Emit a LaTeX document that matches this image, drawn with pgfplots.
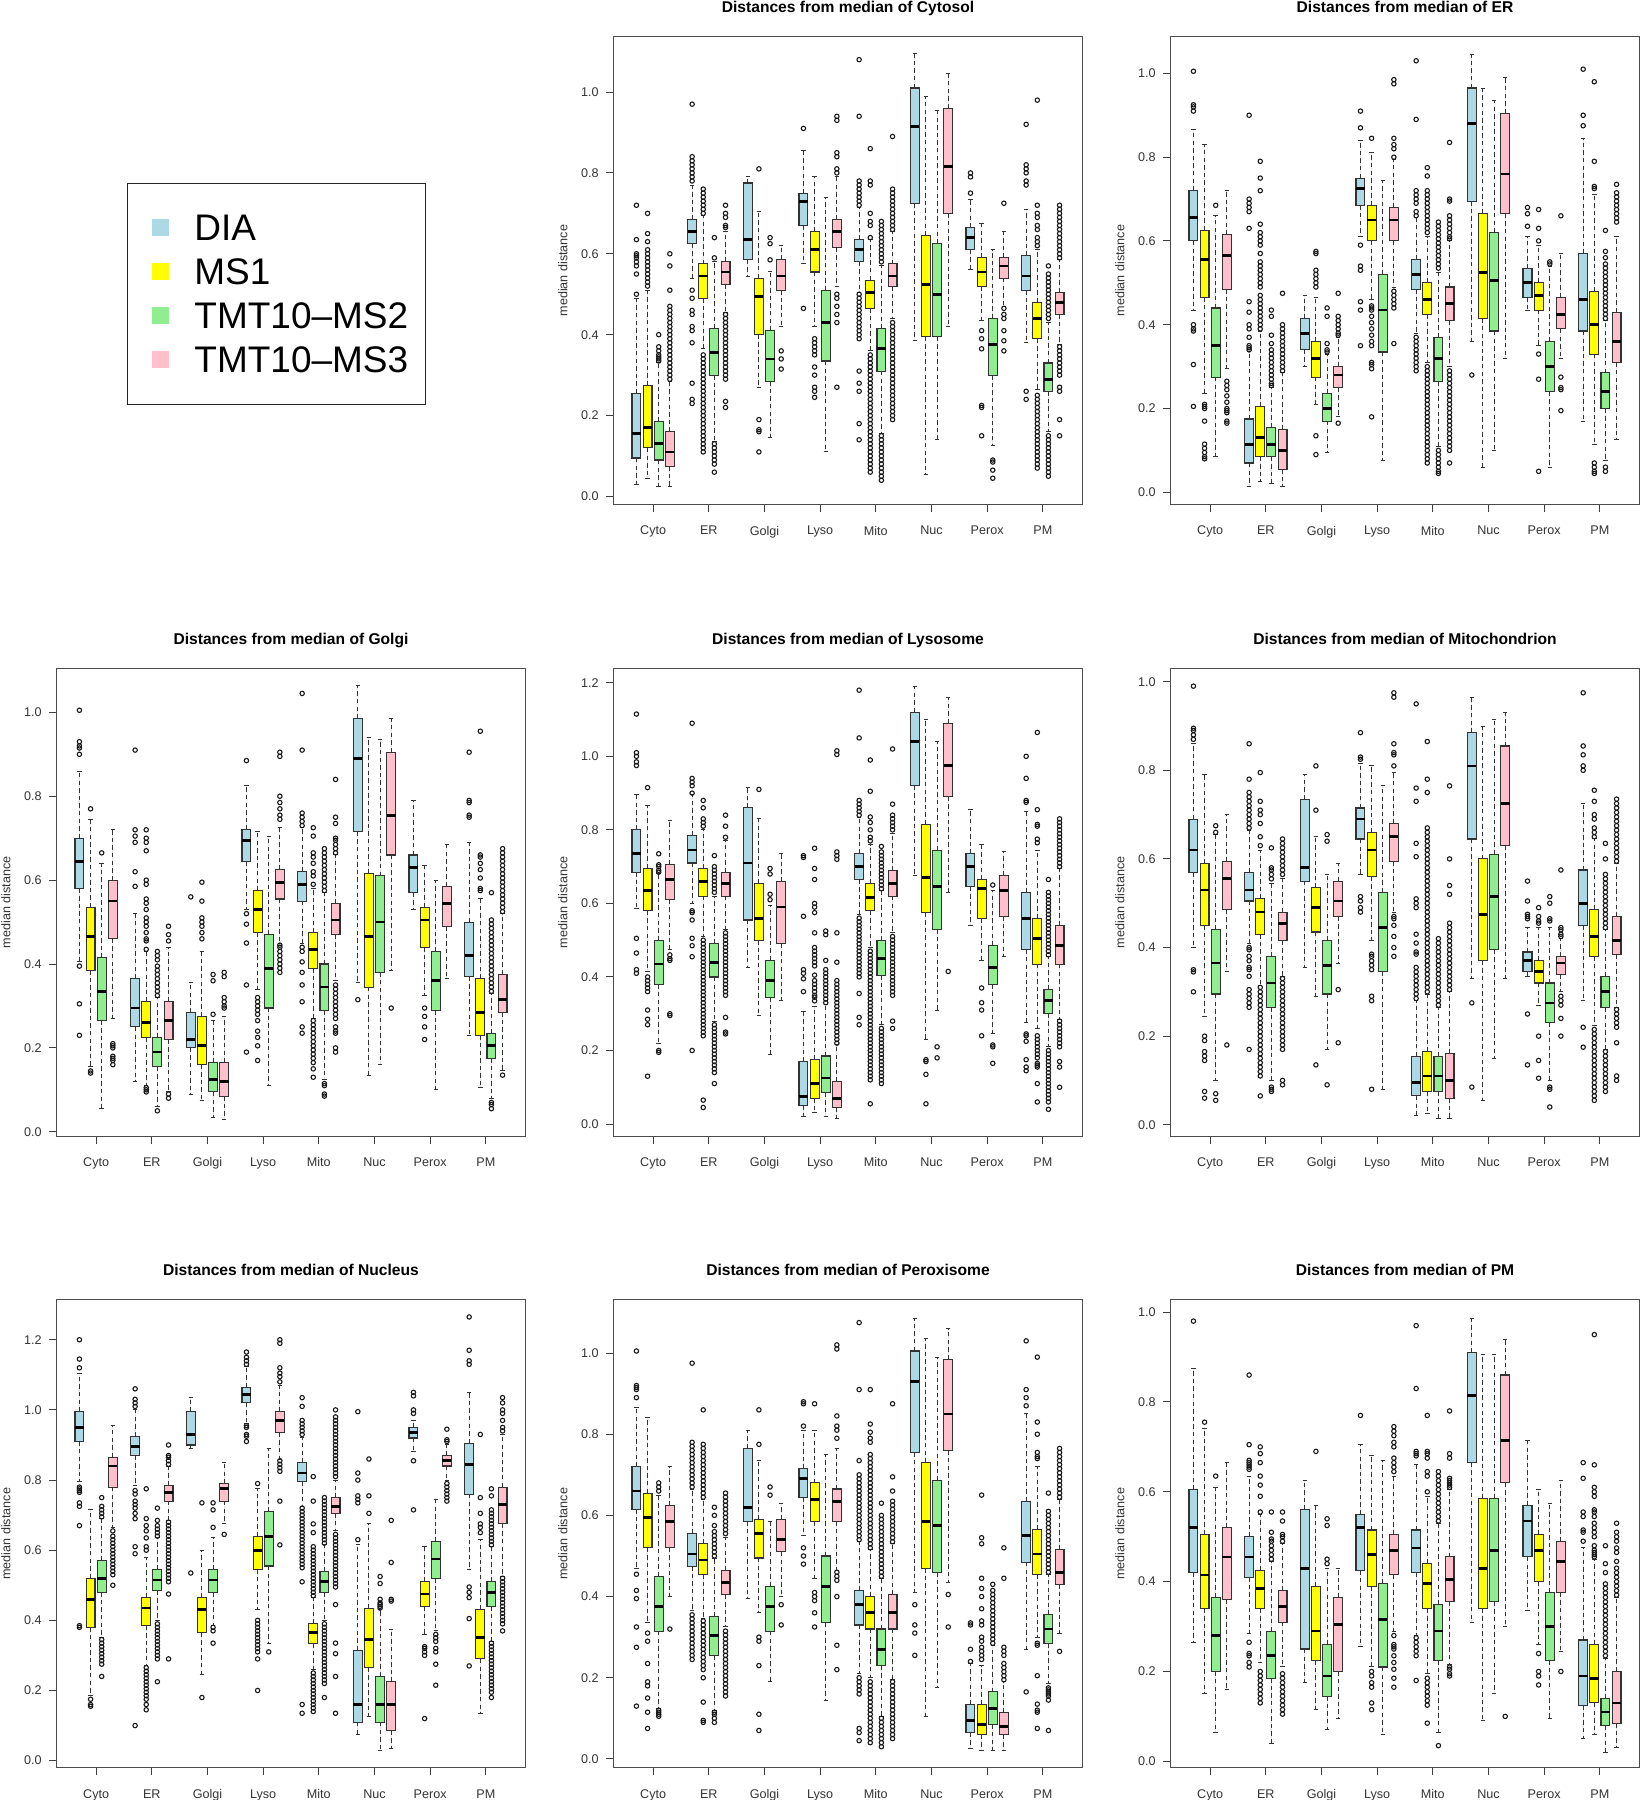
\documentclass[border=0pt]{standalone}
\usepackage{fontspec}
\setmainfont{Liberation Sans}
\usepackage{pgfplots}
\pgfplotsset{compat=1.18}
\usepgfplotslibrary{statistics}
\definecolor{cA}{HTML}{ADD8E6}
\definecolor{cB}{HTML}{FFFF00}
\definecolor{cC}{HTML}{90EE90}
\definecolor{cD}{HTML}{FFC0CB}
\pgfplotsset{
 pan/.style={anchor=north west, scale only axis, width=234.5pt, height=233.85pt,
   xmin=-1.06, xmax=41.06,
   xtick={2.5,7.5,12.5,17.5,22.5,27.5,32.5,37.5},
   xticklabels={Cyto,ER,Golgi,Lyso,Mito,Nuc,Perox,PM},
   ytick={0,0.2,0.4,0.6,0.8,1.0,1.2},
   tick pos=left, tick align=outside, major tick length=3.85pt,
   axis line style={black!70, line width=0.5pt},
   tick style={black!75, line width=0.5pt},
   /pgf/number format/assume math mode=true,
   yticklabel style={/pgf/number format/.cd, fixed, fixed zerofill, precision=1},
   tick label style={font=\fontsize{6.3}{7}\selectfont, text=black!80},
   xticklabel style={yshift=-3.5pt},
   every axis title/.style={at={(0.5,1)}, anchor=base, yshift=12pt, font=\bfseries\fontsize{7.8}{9}\selectfont},
   ylabel={median distance},
   every axis y label/.style={at={(axis description cs:-0.108,0.5)}, rotate=90, anchor=center, font=\fontsize{6.3}{7}\selectfont, text=black!80},
   boxplot/draw direction=y,
 },
 bxs/.style={
   draw=black!80, line width=0.55pt,
   boxplot/draw direction=y,
   boxplot/box extend=0.8,
   boxplot/whisker extend=0.4,
   boxplot/every median/.style={draw=black, line width=1.4pt},
   boxplot/draw/lower whisker/.code={%
     \draw[black!80, line width=0.5pt, dash pattern=on 2.2pt off 1.6pt]
       (boxplot cs:\pgfplotsboxplotvalue{lower quartile}) -- (boxplot cs:\pgfplotsboxplotvalue{lower whisker});
     \draw[black!80, line width=0.5pt]
       (boxplot whisker cs:\pgfplotsboxplotvalue{lower whisker},0) -- (boxplot whisker cs:\pgfplotsboxplotvalue{lower whisker},1);
   },
   boxplot/draw/upper whisker/.code={%
     \draw[black!80, line width=0.5pt, dash pattern=on 2.2pt off 1.6pt]
       (boxplot cs:\pgfplotsboxplotvalue{upper quartile}) -- (boxplot cs:\pgfplotsboxplotvalue{upper whisker});
     \draw[black!80, line width=0.5pt]
       (boxplot whisker cs:\pgfplotsboxplotvalue{upper whisker},0) -- (boxplot whisker cs:\pgfplotsboxplotvalue{upper whisker},1);
   },
 },
 outl/.style={only marks, mark=o, mark size=1.1pt, mark options={line width=0.55pt, draw=black!90}},
}
% \bx{position}{colour}{lower whisker}{lower quartile}{median}{upper quartile}{upper whisker}{outliers}
\newcommand\bx[8]{%
  \addplot[bxs, fill=#2, boxplot prepared={draw position=#1, lower whisker=#3, lower quartile=#4, median=#5, upper quartile=#6, upper whisker=#7}] coordinates {};
  \ifx\relax#8\relax\else
    \gdef\olist{}%
    \foreach \v in {#8}{\xdef\olist{\olist (#1,\v)}}%
    \edef\tmp{\noexpand\addplot[outl] coordinates {\olist};}\tmp
  \fi
}
\begin{document}
\begin{tikzpicture}
\useasboundingbox (0,0) rectangle (820.5pt,-900pt);

% ---------------- Cytosol
\begin{axis}[pan, at={(306.75pt,-18.35pt)}, ymin=-0.0197, ymax=1.1368, title={Distances from median of Cytosol}]
\bx{1}{cA}{0.03}{0.095}{0.155}{0.255}{0.49}{0.50,0.55,0.57,0.58,0.59,0.595,0.60,0.635,0.72}
\bx{2}{cB}{0.045}{0.12}{0.17}{0.275}{0.51}{0.52,0.53,0.54,0.55,0.56,0.57,0.58,0.59,0.60,0.61,0.63,0.65,0.70}
\bx{3}{cC}{0.025}{0.09}{0.13}{0.185}{0.33}{0.335,0.34,0.345,0.35,0.36,0.37,0.40}
\bx{4}{cD}{0.025}{0.075}{0.11}{0.16}{0.285}{0.29,0.30,0.31,0.32,0.33,0.34,0.35,0.36,0.37,0.38,0.39,0.40,0.41,0.42,0.43,0.44,0.45,0.46,0.47,0.51,0.57,0.60}
\bx{6}{cA}{0.54}{0.625}{0.655}{0.685}{0.77}{0.78,0.79,0.80,0.81,0.82,0.83,0.84,0.97,0.51,0.49,0.46,0.45,0.42,0.41,0.38,0.28,0.24,0.23}
\bx{7}{cB}{0.365}{0.49}{0.545}{0.575}{0.695}{0.70,0.71,0.72,0.73,0.74,0.75,0.76,0.11,0.12,0.13,0.14,0.15,0.16,0.17,0.18,0.19,0.20,0.21,0.22,0.23,0.24,0.25,0.26,0.27,0.28,0.29,0.30,0.31,0.32,0.33,0.34,0.35}
\bx{8}{cC}{0.135}{0.30}{0.355}{0.415}{0.58}{0.59,0.64,0.09,0.10,0.11,0.12,0.13,0.08,0.06}
\bx{9}{cD}{0.455}{0.525}{0.555}{0.58}{0.655}{0.665,0.67,0.69,0.70,0.72,0.29,0.30,0.31,0.32,0.33,0.34,0.35,0.36,0.37,0.38,0.39,0.40,0.41,0.42,0.43,0.44,0.45,0.235,0.22}
\bx{11}{cA}{0.545}{0.585}{0.635}{0.775}{0.79}{}
\bx{12}{cB}{0.27}{0.40}{0.495}{0.54}{0.705}{0.81,0.19,0.165,0.16,0.11}
\bx{13}{cC}{0.145}{0.285}{0.34}{0.41}{0.555}{0.585,0.625,0.64}
\bx{14}{cD}{0.42}{0.51}{0.545}{0.585}{0.62}{0.36,0.34,0.315}
\bx{16}{cA}{0.575}{0.67}{0.73}{0.75}{0.855}{0.91,0.465}
\bx{17}{cB}{0.42}{0.555}{0.61}{0.655}{0.79}{0.39,0.38,0.37,0.36,0.35,0.32,0.30,0.27,0.26,0.245}
\bx{18}{cC}{0.11}{0.335}{0.43}{0.51}{0.74}{}
\bx{19}{cD}{0.52}{0.615}{0.655}{0.685}{0.79}{0.80,0.81,0.84,0.85,0.93,0.94,0.50,0.49,0.47,0.45,0.43,0.27}
\bx{21}{cA}{0.505}{0.58}{0.61}{0.635}{0.715}{0.72,0.73,0.74,0.75,0.76,0.77,0.78,0.94,1.08,0.39,0.40,0.41,0.42,0.43,0.44,0.45,0.46,0.47,0.48,0.49,0.50,0.31,0.28,0.26,0.18,0.14}
\bx{22}{cB}{0.36}{0.465}{0.505}{0.535}{0.635}{0.64,0.67,0.68,0.70,0.77,0.78,0.86,0.06,0.07,0.08,0.09,0.10,0.11,0.12,0.13,0.14,0.15,0.16,0.17,0.18,0.19,0.20,0.21,0.22,0.23,0.24,0.25,0.26,0.27,0.28,0.29,0.30,0.31,0.32,0.33,0.34,0.35}
\bx{23}{cC}{0.155}{0.31}{0.365}{0.415}{0.57}{0.58,0.59,0.60,0.61,0.62,0.63,0.64,0.65,0.66,0.67,0.68,0.04,0.05,0.06,0.07,0.08,0.09,0.10,0.11,0.12,0.13,0.14,0.15}
\bx{24}{cD}{0.44}{0.52}{0.545}{0.575}{0.655}{0.66,0.67,0.68,0.69,0.70,0.71,0.72,0.73,0.74,0.75,0.76,0.89,0.19,0.20,0.21,0.22,0.23,0.24,0.25,0.26,0.27,0.28,0.29,0.30,0.31,0.32,0.33,0.34,0.35,0.36,0.37,0.38,0.39,0.40,0.41,0.42,0.43}
\bx{26}{cA}{0.385}{0.725}{0.915}{1.01}{1.095}{}
\bx{27}{cB}{0.055}{0.395}{0.525}{0.645}{0.99}{}
\bx{28}{cC}{0.14}{0.395}{0.50}{0.625}{0.955}{}
\bx{29}{cD}{0.42}{0.70}{0.815}{0.96}{1.045}{}
\bx{31}{cA}{0.56}{0.61}{0.64}{0.665}{0.735}{0.75,0.79,0.80}
\bx{32}{cB}{0.435}{0.52}{0.555}{0.59}{0.675}{0.41,0.39,0.365,0.225,0.22,0.15}
\bx{33}{cC}{0.125}{0.30}{0.375}{0.44}{0.61}{0.09,0.085,0.065,0.045}
\bx{34}{cD}{0.47}{0.54}{0.57}{0.59}{0.655}{0.725,0.465,0.45,0.44,0.41,0.385,0.36}
\bx{36}{cA}{0.38}{0.51}{0.545}{0.595}{0.71}{0.77,0.78,0.80,0.81,0.82,0.92,0.26,0.24}
\bx{37}{cB}{0.265}{0.39}{0.44}{0.48}{0.61}{0.62,0.63,0.64,0.66,0.67,0.69,0.70,0.72,0.98,0.07,0.08,0.09,0.10,0.11,0.12,0.13,0.14,0.15,0.16,0.17,0.18,0.19,0.20,0.21,0.22,0.23,0.24,0.25}
\bx{38}{cC}{0.16}{0.26}{0.29}{0.33}{0.43}{0.44,0.45,0.46,0.47,0.48,0.49,0.50,0.51,0.52,0.53,0.54,0.55,0.57,0.05,0.06,0.07,0.08,0.09,0.10,0.11,0.12,0.13,0.14,0.15}
\bx{39}{cD}{0.375}{0.45}{0.48}{0.505}{0.585}{0.59,0.60,0.61,0.62,0.63,0.64,0.65,0.66,0.67,0.68,0.69,0.70,0.71,0.72,0.30,0.31,0.32,0.33,0.34,0.35,0.36,0.37,0.27,0.26,0.19,0.15}
\end{axis}

% ---------------- ER
\begin{axis}[pan, at={(585.25pt,-18.35pt)}, ymin=-0.0289, ymax=1.0875, title={Distances from median of ER}]
\bx{1}{cA}{0.435}{0.60}{0.655}{0.72}{0.865}{0.91,0.92,0.925,1.005,0.40,0.39,0.385,0.305,0.205}
\bx{2}{cB}{0.235}{0.465}{0.555}{0.625}{0.83}{0.21,0.205,0.20,0.17,0.115,0.105,0.095,0.085,0.08}
\bx{3}{cC}{0.085}{0.275}{0.35}{0.44}{0.66}{0.685}
\bx{4}{cD}{0.295}{0.485}{0.565}{0.615}{0.72}{0.265,0.255,0.245,0.23,0.215,0.20,0.195,0.19,0.17,0.165}
\bx{6}{cA}{0.015}{0.07}{0.115}{0.175}{0.335}{0.34,0.345,0.35,0.37,0.39,0.40,0.43,0.455,0.63,0.67,0.68,0.69,0.70,0.90}
\bx{7}{cB}{0.025}{0.085}{0.13}{0.205}{0.385}{0.39,0.40,0.41,0.42,0.43,0.44,0.45,0.46,0.47,0.49,0.50,0.51,0.52,0.53,0.54,0.55,0.57,0.59,0.60,0.61,0.62,0.64,0.72,0.75,0.79}
\bx{8}{cC}{0.02}{0.085}{0.115}{0.155}{0.25}{0.255,0.26,0.27,0.28,0.29,0.30,0.31,0.32,0.33,0.34,0.355,0.375,0.42,0.435}
\bx{9}{cD}{0.015}{0.055}{0.10}{0.15}{0.285}{0.29,0.30,0.31,0.32,0.33,0.34,0.35,0.36,0.37,0.38,0.39,0.40,0.475}
\bx{11}{cA}{0.30}{0.34}{0.38}{0.415}{0.47}{}
\bx{12}{cB}{0.21}{0.275}{0.32}{0.36}{0.465}{0.49,0.50,0.51,0.52,0.53,0.57,0.575,0.135,0.09}
\bx{13}{cC}{0.095}{0.17}{0.20}{0.235}{0.33}{0.335,0.34,0.355,0.42,0.44}
\bx{14}{cD}{0.18}{0.25}{0.28}{0.30}{0.37}{0.375,0.38,0.39,0.40,0.41,0.42,0.475,0.165}
\bx{16}{cA}{0.61}{0.685}{0.725}{0.75}{0.84}{0.87,0.91,0.59,0.54,0.53,0.455,0.435,0.35}
\bx{17}{cB}{0.46}{0.60}{0.65}{0.685}{0.81}{0.845,0.445,0.44,0.435,0.42,0.405,0.39,0.375,0.36,0.35,0.31,0.305,0.295,0.18}
\bx{18}{cC}{0.075}{0.335}{0.435}{0.52}{0.745}{}
\bx{19}{cD}{0.49}{0.60}{0.65}{0.68}{0.795}{0.80,0.82,0.83,0.845,0.975,0.985,0.48,0.47,0.46,0.45,0.44,0.355}
\bx{21}{cA}{0.38}{0.485}{0.52}{0.555}{0.655}{0.66,0.67,0.69,0.70,0.71,0.72,0.89,1.03,0.29,0.30,0.31,0.32,0.33,0.34,0.35,0.36,0.37}
\bx{22}{cB}{0.31}{0.425}{0.46}{0.50}{0.61}{0.62,0.63,0.64,0.65,0.66,0.67,0.68,0.69,0.70,0.71,0.72,0.755,0.775,0.07,0.08,0.09,0.10,0.11,0.12,0.13,0.14,0.15,0.16,0.17,0.18,0.19,0.20,0.21,0.22,0.23,0.24,0.25,0.26,0.27,0.28,0.29,0.30}
\bx{23}{cC}{0.11}{0.265}{0.32}{0.37}{0.525}{0.535,0.545,0.555,0.565,0.575,0.585,0.595,0.605,0.615,0.625,0.635,0.645,0.045,0.05,0.06,0.07,0.08,0.09,0.10}
\bx{24}{cD}{0.30}{0.41}{0.45}{0.49}{0.60}{0.605,0.61,0.62,0.63,0.64,0.65,0.66,0.695,0.70,0.835,0.10,0.11,0.12,0.13,0.14,0.15,0.16,0.17,0.18,0.19,0.20,0.21,0.22,0.23,0.24,0.25,0.26,0.27,0.28,0.29,0.07}
\bx{26}{cA}{0.36}{0.695}{0.88}{0.965}{1.045}{0.28}
\bx{27}{cB}{0.06}{0.415}{0.525}{0.665}{0.965}{}
\bx{28}{cC}{0.10}{0.385}{0.505}{0.62}{0.935}{}
\bx{29}{cD}{0.32}{0.665}{0.76}{0.905}{0.99}{}
\bx{31}{cA}{0.435}{0.465}{0.50}{0.535}{0.61}{0.635,0.665,0.68}
\bx{32}{cB}{0.35}{0.435}{0.47}{0.50}{0.59}{0.60,0.63,0.675,0.33,0.27,0.05}
\bx{33}{cC}{0.06}{0.24}{0.30}{0.36}{0.54}{0.545,0.55}
\bx{34}{cD}{0.32}{0.39}{0.425}{0.465}{0.57}{0.66,0.275,0.25,0.245,0.195}
\bx{36}{cA}{0.17}{0.385}{0.46}{0.57}{0.845}{0.875,0.90,1.01}
\bx{37}{cB}{0.115}{0.33}{0.40}{0.48}{0.71}{0.725,0.73,0.79,0.98,0.07,0.06,0.05,0.045}
\bx{38}{cC}{0.075}{0.20}{0.24}{0.285}{0.41}{0.415,0.425,0.435,0.445,0.455,0.465,0.475,0.485,0.495,0.505,0.515,0.525,0.535,0.545,0.56,0.575,0.625,0.06,0.05}
\bx{39}{cD}{0.125}{0.31}{0.36}{0.43}{0.61}{0.645,0.655,0.665,0.675,0.685,0.695,0.705,0.715,0.735}
\end{axis}

% ---------------- Golgi
\begin{axis}[pan, at={(28.25pt,-334.15pt)}, ymin=-0.0101, ymax=1.105, title={Distances from median of Golgi}]
\bx{1}{cA}{0.405}{0.58}{0.645}{0.70}{0.86}{0.90,0.915,0.92,0.93,1.005,0.395,0.305,0.23}
\bx{2}{cB}{0.155}{0.385}{0.465}{0.535}{0.745}{0.77,0.145,0.14}
\bx{3}{cC}{0.055}{0.265}{0.335}{0.415}{0.64}{0.665}
\bx{4}{cD}{0.27}{0.46}{0.55}{0.60}{0.72}{0.21,0.205,0.20,0.18,0.175,0.17,0.16}
\bx{6}{cA}{0.12}{0.25}{0.295}{0.365}{0.52}{0.585,0.62,0.69,0.705,0.72,0.91}
\bx{7}{cB}{0.11}{0.225}{0.26}{0.31}{0.43}{0.435,0.455,0.46,0.475,0.49,0.50,0.51,0.53,0.545,0.555,0.59,0.60,0.67,0.69,0.70,0.72,0.105,0.10,0.095}
\bx{8}{cC}{0.06}{0.155}{0.19}{0.225}{0.32}{0.325,0.335,0.345,0.355,0.365,0.375,0.385,0.395,0.41,0.42,0.43,0.05}
\bx{9}{cD}{0.095}{0.22}{0.265}{0.31}{0.44}{0.455,0.47,0.49,0.09,0.08}
\bx{11}{cA}{0.09}{0.20}{0.22}{0.285}{0.355}{0.56}
\bx{12}{cB}{0.075}{0.16}{0.205}{0.275}{0.43}{0.46,0.475,0.49,0.50,0.51,0.55,0.595}
\bx{13}{cC}{0.035}{0.095}{0.125}{0.165}{0.265}{0.28,0.36,0.375}
\bx{14}{cD}{0.03}{0.085}{0.12}{0.165}{0.275}{0.295,0.30,0.31,0.32,0.37,0.38}
\bx{16}{cA}{0.53}{0.645}{0.695}{0.72}{0.825}{0.885,0.52,0.495,0.45,0.35,0.19}
\bx{17}{cB}{0.34}{0.475}{0.53}{0.575}{0.715}{0.32,0.31,0.30,0.29,0.28,0.265,0.24,0.225,0.205,0.17}
\bx{18}{cC}{0.11}{0.295}{0.39}{0.47}{0.705}{}
\bx{19}{cD}{0.45}{0.555}{0.595}{0.625}{0.725}{0.745,0.755,0.77,0.785,0.80,0.895,0.905,0.38,0.39,0.40,0.41,0.42,0.43,0.44,0.445}
\bx{21}{cA}{0.45}{0.55}{0.59}{0.62}{0.725}{0.73,0.74,0.75,0.76,0.91,1.045,0.44,0.43,0.405,0.38,0.35,0.31,0.25,0.235}
\bx{22}{cB}{0.27}{0.39}{0.435}{0.475}{0.58}{0.59,0.61,0.62,0.64,0.655,0.665,0.705,0.725,0.165,0.175,0.185,0.195,0.205,0.215,0.225,0.235,0.245,0.255,0.265,0.15,0.13}
\bx{23}{cC}{0.125}{0.29}{0.345}{0.40}{0.57}{0.575,0.585,0.595,0.605,0.615,0.625,0.635,0.645,0.655,0.665,0.675,0.115,0.11,0.09,0.085}
\bx{24}{cD}{0.36}{0.47}{0.505}{0.545}{0.66}{0.665,0.675,0.685,0.695,0.70,0.735,0.75,0.84,0.27,0.28,0.29,0.30,0.31,0.32,0.33,0.34,0.35,0.25,0.24,0.235,0.20,0.19}
\bx{26}{cA}{0.355}{0.715}{0.89}{0.985}{1.065}{0.315}
\bx{27}{cB}{0.135}{0.345}{0.465}{0.615}{0.94}{}
\bx{28}{cC}{0.16}{0.38}{0.50}{0.61}{0.935}{}
\bx{29}{cD}{0.385}{0.66}{0.755}{0.905}{0.985}{0.295}
\bx{31}{cA}{0.53}{0.57}{0.63}{0.66}{0.79}{}
\bx{32}{cB}{0.325}{0.44}{0.505}{0.535}{0.635}{0.295,0.275,0.25,0.22}
\bx{33}{cC}{0.10}{0.29}{0.36}{0.43}{0.60}{}
\bx{34}{cD}{0.365}{0.49}{0.545}{0.585}{0.685}{}
\bx{36}{cA}{0.23}{0.37}{0.42}{0.50}{0.69}{0.75,0.755,0.785,0.79,0.905}
\bx{37}{cB}{0.105}{0.23}{0.285}{0.365}{0.555}{0.575,0.58,0.605,0.625,0.64,0.655,0.66,0.955}
\bx{38}{cC}{0.08}{0.175}{0.205}{0.235}{0.33}{0.335,0.345,0.355,0.365,0.375,0.385,0.395,0.405,0.415,0.425,0.435,0.445,0.455,0.465,0.475,0.485,0.495,0.505,0.57,0.07,0.065,0.055}
\bx{39}{cD}{0.145}{0.285}{0.315}{0.375}{0.52}{0.525,0.535,0.545,0.555,0.565,0.575,0.585,0.595,0.605,0.615,0.625,0.635,0.645,0.655,0.665,0.675,0.135}
\end{axis}

% ---------------- Lysosome
\begin{axis}[pan, at={(306.75pt,-334.15pt)}, ymin=-0.0326, ymax=1.2394, title={Distances from median of Lysosome}]
\bx{1}{cA}{0.585}{0.685}{0.735}{0.80}{0.895}{0.975,0.985,1.0,1.01,1.115,0.505,0.465,0.42,0.41}
\bx{2}{cB}{0.415}{0.58}{0.635}{0.695}{0.865}{0.915,0.40,0.39,0.38,0.37,0.36,0.31,0.285,0.27,0.13}
\bx{3}{cC}{0.22}{0.38}{0.435}{0.50}{0.68}{0.685,0.69,0.70,0.705,0.735,0.20,0.195}
\bx{4}{cD}{0.475}{0.61}{0.665}{0.705}{0.825}{0.46,0.45,0.445,0.30,0.295}
\bx{6}{cA}{0.60}{0.71}{0.745}{0.785}{0.895}{0.90,0.92,0.93,0.94,1.09,0.58,0.575,0.555,0.505,0.485,0.455,0.20}
\bx{7}{cB}{0.51}{0.62}{0.66}{0.695}{0.80}{0.81,0.82,0.83,0.86,0.88,0.24,0.25,0.26,0.27,0.28,0.29,0.30,0.31,0.32,0.33,0.34,0.35,0.36,0.37,0.38,0.39,0.40,0.41,0.42,0.43,0.44,0.45,0.46,0.47,0.48,0.49,0.50,0.065,0.045}
\bx{8}{cC}{0.28}{0.40}{0.44}{0.49}{0.62}{0.63,0.64,0.65,0.66,0.67,0.68,0.69,0.70,0.73,0.14,0.15,0.16,0.17,0.18,0.19,0.20,0.21,0.22,0.23,0.24,0.25,0.26,0.27,0.11}
\bx{9}{cD}{0.53}{0.62}{0.655}{0.685}{0.77}{0.78,0.81,0.84,0.35,0.36,0.37,0.38,0.39,0.40,0.41,0.42,0.43,0.44,0.45,0.46,0.47,0.48,0.49,0.50,0.51,0.52,0.29,0.25,0.245}
\bx{11}{cA}{0.425}{0.555}{0.71}{0.86}{0.915}{}
\bx{12}{cB}{0.295}{0.50}{0.56}{0.655}{0.83}{0.91}
\bx{13}{cC}{0.19}{0.345}{0.39}{0.445}{0.595}{0.61,0.625,0.68,0.695}
\bx{14}{cD}{0.335}{0.49}{0.59}{0.66}{0.735}{}
\bx{16}{cA}{0.02}{0.05}{0.075}{0.17}{0.305}{0.36,0.395,0.41,0.42,0.565,0.725,0.73}
\bx{17}{cB}{0.03}{0.07}{0.11}{0.175}{0.32}{0.335,0.345,0.35,0.36,0.37,0.38,0.39,0.405,0.43,0.44,0.45,0.46,0.47,0.48,0.52,0.575,0.59,0.60,0.665,0.695,0.75}
\bx{18}{cC}{0.02}{0.085}{0.125}{0.185}{0.325}{0.33,0.34,0.35,0.36,0.37,0.38,0.39,0.40,0.41,0.42,0.445,0.515,0.525}
\bx{19}{cD}{0.015}{0.045}{0.07}{0.115}{0.215}{0.22,0.23,0.24,0.25,0.26,0.27,0.28,0.29,0.30,0.31,0.32,0.33,0.34,0.35,0.36,0.37,0.38,0.39,0.44,0.52,0.72,0.73,0.74,1.005,1.015}
\bx{21}{cA}{0.57}{0.665}{0.70}{0.735}{0.835}{0.84,0.85,0.86,0.87,0.88,1.05,1.18,0.40,0.41,0.42,0.43,0.44,0.45,0.46,0.47,0.48,0.49,0.50,0.51,0.52,0.53,0.54,0.55,0.56,0.355,0.29,0.27}
\bx{22}{cB}{0.48}{0.58}{0.615}{0.655}{0.76}{0.77,0.78,0.80,0.82,0.835,0.905,0.99,0.12,0.13,0.14,0.15,0.16,0.17,0.18,0.19,0.20,0.21,0.22,0.23,0.24,0.25,0.26,0.27,0.28,0.29,0.30,0.31,0.32,0.33,0.34,0.35,0.36,0.37,0.38,0.39,0.40,0.41,0.42,0.43,0.44,0.45,0.46,0.47,0.055}
\bx{23}{cC}{0.27}{0.405}{0.45}{0.50}{0.635}{0.64,0.65,0.66,0.67,0.68,0.69,0.70,0.71,0.72,0.73,0.74,0.755,0.11,0.12,0.13,0.14,0.15,0.16,0.17,0.18,0.19,0.20,0.21,0.22,0.23,0.24,0.25,0.26}
\bx{24}{cD}{0.52}{0.62}{0.655}{0.69}{0.79}{0.80,0.81,0.82,0.83,0.84,0.87,1.02,0.35,0.36,0.37,0.38,0.39,0.40,0.41,0.42,0.43,0.44,0.45,0.46,0.47,0.48,0.49,0.50,0.51,0.28,0.26}
\bx{26}{cA}{0.675}{0.92}{1.04}{1.12}{1.19}{}
\bx{27}{cB}{0.23}{0.575}{0.67}{0.815}{1.10}{0.175,0.17,0.135,0.055}
\bx{28}{cC}{0.31}{0.53}{0.645}{0.745}{1.04}{0.21,0.18}
\bx{29}{cD}{0.63}{0.89}{0.975}{1.09}{1.16}{0.415}
\bx{31}{cA}{0.54}{0.645}{0.70}{0.735}{0.855}{}
\bx{32}{cB}{0.445}{0.56}{0.64}{0.665}{0.76}{0.37,0.33,0.31,0.24}
\bx{33}{cC}{0.245}{0.38}{0.425}{0.485}{0.635}{0.65,0.215,0.21,0.165}
\bx{34}{cD}{0.455}{0.565}{0.635}{0.675}{0.74}{}
\bx{36}{cA}{0.275}{0.475}{0.56}{0.63}{0.85}{0.875,0.88,0.94,1.0,0.245,0.24,0.225,0.175,0.155,0.145}
\bx{37}{cB}{0.26}{0.435}{0.505}{0.56}{0.745}{0.765,0.775,0.81,0.815,0.855,1.065,0.24,0.23,0.22,0.21,0.20,0.19,0.18,0.165,0.16,0.155,0.11,0.06}
\bx{38}{cC}{0.21}{0.30}{0.335}{0.365}{0.455}{0.46,0.47,0.48,0.49,0.50,0.51,0.52,0.53,0.54,0.55,0.56,0.57,0.58,0.59,0.60,0.61,0.62,0.63,0.665,0.06,0.07,0.08,0.09,0.10,0.11,0.12,0.13,0.14,0.15,0.16,0.17,0.18,0.19,0.20,0.04}
\bx{39}{cD}{0.285}{0.435}{0.485}{0.54}{0.695}{0.70,0.71,0.72,0.73,0.74,0.75,0.76,0.77,0.78,0.79,0.80,0.81,0.82,0.83,0.21,0.22,0.23,0.24,0.25,0.26,0.27,0.28,0.17,0.155,0.10}
\end{axis}

% ---------------- Mitochondrion
\begin{axis}[pan, at={(585.25pt,-334.15pt)}, ymin=-0.0255, ymax=1.0303, title={Distances from median of Mitochondrion}]
\bx{1}{cA}{0.40}{0.57}{0.62}{0.69}{0.86}{0.87,0.88,0.89,0.895,0.99,0.35,0.345,0.30}
\bx{2}{cB}{0.245}{0.45}{0.53}{0.59}{0.79}{0.20,0.19,0.165,0.155,0.145,0.075,0.06}
\bx{3}{cC}{0.10}{0.295}{0.365}{0.44}{0.655}{0.66,0.675,0.07,0.055}
\bx{4}{cD}{0.345}{0.485}{0.555}{0.595}{0.70}{0.18}
\bx{6}{cA}{0.41}{0.505}{0.53}{0.57}{0.665}{0.67,0.68,0.69,0.70,0.71,0.72,0.73,0.74,0.75,0.78,0.86,0.40,0.395,0.38,0.37,0.355,0.35,0.335,0.265,0.275,0.285,0.295,0.305,0.17}
\bx{7}{cB}{0.315}{0.43}{0.48}{0.51}{0.62}{0.63,0.65,0.68,0.70,0.71,0.73,0.795,0.11,0.12,0.13,0.14,0.15,0.16,0.17,0.18,0.19,0.20,0.21,0.22,0.23,0.24,0.25,0.26,0.27,0.28,0.29,0.30,0.31,0.065}
\bx{8}{cC}{0.10}{0.265}{0.32}{0.38}{0.545}{0.555,0.565,0.575,0.58,0.625,0.085,0.08,0.075}
\bx{9}{cD}{0.335}{0.415}{0.455}{0.48}{0.555}{0.565,0.575,0.585,0.595,0.605,0.615,0.625,0.635,0.645,0.17,0.18,0.19,0.20,0.21,0.22,0.23,0.24,0.25,0.26,0.27,0.28,0.29,0.30,0.31,0.32,0.33,0.10,0.09}
\bx{11}{cA}{0.355}{0.55}{0.58}{0.735}{0.79}{}
\bx{12}{cB}{0.29}{0.435}{0.49}{0.535}{0.65}{0.71,0.81,0.135}
\bx{13}{cC}{0.17}{0.295}{0.36}{0.415}{0.565}{0.64,0.655,0.09}
\bx{14}{cD}{0.365}{0.47}{0.505}{0.55}{0.59}{0.305,0.185}
\bx{16}{cA}{0.565}{0.645}{0.69}{0.715}{0.815}{0.825,0.83,0.885,0.515,0.505,0.49,0.48}
\bx{17}{cB}{0.415}{0.56}{0.62}{0.66}{0.81}{0.385,0.38,0.37,0.36,0.35,0.29,0.28,0.08}
\bx{18}{cC}{0.08}{0.345}{0.445}{0.525}{0.765}{}
\bx{19}{cD}{0.48}{0.595}{0.65}{0.68}{0.795}{0.81,0.835,0.84,0.86,0.965,0.975,0.47,0.465,0.45,0.425,0.40,0.38}
\bx{21}{cA}{0.02}{0.065}{0.095}{0.155}{0.28}{0.285,0.295,0.305,0.315,0.325,0.335,0.345,0.355,0.385,0.39,0.41,0.43,0.49,0.50,0.51,0.605,0.635,0.73,0.76,0.95}
\bx{22}{cB}{0.025}{0.075}{0.11}{0.165}{0.295}{0.30,0.31,0.32,0.33,0.34,0.35,0.36,0.37,0.38,0.39,0.40,0.41,0.42,0.43,0.44,0.45,0.46,0.47,0.48,0.49,0.50,0.51,0.52,0.53,0.54,0.55,0.56,0.57,0.58,0.59,0.60,0.61,0.62,0.63,0.64,0.65,0.66,0.67,0.75,0.78,0.865}
\bx{23}{cC}{0.015}{0.075}{0.11}{0.155}{0.265}{0.27,0.28,0.29,0.30,0.31,0.32,0.33,0.34,0.35,0.36,0.37,0.38,0.39,0.40,0.41,0.42}
\bx{24}{cD}{0.015}{0.06}{0.10}{0.16}{0.30}{0.305,0.315,0.325,0.335,0.345,0.355,0.365,0.375,0.385,0.395,0.405,0.415,0.425,0.435,0.445,0.455,0.52,0.54,0.60,0.765}
\bx{26}{cA}{0.33}{0.645}{0.81}{0.885}{0.965}{0.275,0.085}
\bx{27}{cB}{0.055}{0.37}{0.475}{0.60}{0.90}{}
\bx{28}{cC}{0.15}{0.395}{0.515}{0.61}{0.915}{}
\bx{29}{cD}{0.33}{0.63}{0.725}{0.855}{0.93}{}
\bx{31}{cA}{0.335}{0.345}{0.37}{0.39}{0.445}{0.465,0.47,0.475,0.505,0.55,0.25,0.135}
\bx{32}{cB}{0.27}{0.32}{0.345}{0.37}{0.445}{0.455,0.46,0.47,0.49,0.20,0.145,0.105}
\bx{33}{cC}{0.10}{0.23}{0.275}{0.32}{0.445}{0.46,0.465,0.50,0.515,0.085,0.08,0.04}
\bx{34}{cD}{0.30}{0.34}{0.365}{0.38}{0.42}{0.425,0.43,0.44,0.445,0.575,0.29,0.28,0.27,0.24,0.20}
\bx{36}{cA}{0.28}{0.45}{0.50}{0.575}{0.725}{0.80,0.81,0.835,0.855,0.975,0.22,0.175}
\bx{37}{cB}{0.225}{0.38}{0.425}{0.485}{0.645}{0.65,0.66,0.67,0.69,0.70,0.73,0.755,0.055,0.065,0.075,0.085,0.095,0.105,0.115,0.125,0.135,0.145,0.155,0.165,0.175,0.185,0.195,0.205,0.215}
\bx{38}{cC}{0.17}{0.265}{0.30}{0.335}{0.44}{0.445,0.455,0.465,0.475,0.485,0.495,0.505,0.515,0.525,0.535,0.545,0.555,0.565,0.60,0.635,0.075,0.085,0.095,0.105,0.115,0.125,0.135,0.145,0.155,0.165}
\bx{39}{cD}{0.265}{0.385}{0.415}{0.47}{0.59}{0.595,0.605,0.615,0.625,0.635,0.645,0.655,0.665,0.675,0.685,0.695,0.705,0.715,0.725,0.735,0.26,0.25,0.24,0.23,0.22,0.185,0.11,0.10}
\end{axis}

% ---------------- Nucleus
\begin{axis}[pan, at={(28.25pt,-649.95pt)}, ymin=-0.0199, ymax=1.3136, title={Distances from median of Nucleus}]
\bx{1}{cA}{0.795}{0.91}{0.95}{0.995}{1.105}{1.12,1.145,1.20,0.78,0.775,0.77,0.765,0.735,0.725,0.67,0.385,0.38}
\bx{2}{cB}{0.185}{0.38}{0.46}{0.52}{0.715}{0.175,0.16,0.155}
\bx{3}{cC}{0.35}{0.48}{0.52}{0.57}{0.69}{0.695,0.705,0.715,0.725,0.75,0.275,0.285,0.295,0.305,0.315,0.325,0.335,0.345,0.24}
\bx{4}{cD}{0.665}{0.78}{0.84}{0.865}{0.955}{0.53,0.54,0.55,0.56,0.57,0.58,0.59,0.60,0.61,0.62,0.63,0.64,0.655,0.50}
\bx{6}{cA}{0.785}{0.87}{0.895}{0.925}{1.00}{1.01,1.02,1.03,1.06,0.77,0.76,0.74,0.73,0.72,0.705,0.69,0.61,0.59,0.10}
\bx{7}{cB}{0.27}{0.385}{0.435}{0.465}{0.58}{0.60,0.61,0.635,0.655,0.67,0.69,0.775,0.175,0.185,0.195,0.205,0.215,0.225,0.235,0.245,0.255,0.265,0.16,0.145}
\bx{8}{cC}{0.40}{0.485}{0.515}{0.545}{0.635}{0.64,0.65,0.66,0.67,0.685,0.72,0.29,0.30,0.31,0.32,0.33,0.34,0.35,0.36,0.37,0.38,0.39,0.225}
\bx{9}{cD}{0.685}{0.74}{0.765}{0.785}{0.84}{0.845,0.855,0.865,0.87,0.90,0.51,0.52,0.53,0.54,0.55,0.56,0.57,0.58,0.59,0.60,0.61,0.62,0.63,0.64,0.65,0.66,0.67,0.68,0.475,0.29}
\bx{11}{cA}{0.89}{0.90}{0.93}{0.995}{1.035}{0.535}
\bx{12}{cB}{0.245}{0.365}{0.43}{0.465}{0.60}{0.735,0.18}
\bx{13}{cC}{0.385}{0.48}{0.515}{0.545}{0.635}{0.665,0.715,0.735,0.38,0.37,0.335}
\bx{14}{cD}{0.675}{0.74}{0.775}{0.79}{0.85}{0.645}
\bx{16}{cA}{0.96}{1.02}{1.045}{1.065}{1.125}{1.13,1.14,1.15,1.165,0.955,0.95,0.93,0.925,0.91}
\bx{17}{cB}{0.43}{0.545}{0.60}{0.64}{0.775}{0.79,0.31,0.32,0.33,0.34,0.35,0.36,0.37,0.38,0.39,0.40,0.29,0.20}
\bx{18}{cC}{0.335}{0.555}{0.64}{0.71}{0.89}{0.31}
\bx{19}{cD}{0.86}{0.935}{0.97}{0.995}{1.07}{1.08,1.095,1.105,1.12,1.19,1.20,0.825,0.835,0.845,0.855,0.74,0.615}
\bx{21}{cA}{0.725}{0.795}{0.82}{0.85}{0.92}{0.93,0.94,0.95,0.96,0.97,1.01,1.035,0.55,0.56,0.57,0.58,0.59,0.60,0.61,0.62,0.63,0.64,0.65,0.66,0.67,0.68,0.69,0.70,0.71,0.72,0.51,0.16,0.135}
\bx{22}{cB}{0.26}{0.335}{0.365}{0.39}{0.465}{0.47,0.48,0.49,0.50,0.51,0.52,0.53,0.54,0.55,0.56,0.57,0.58,0.59,0.60,0.61,0.65,0.675,0.74,0.81,0.14,0.15,0.16,0.17,0.18,0.19,0.20,0.21,0.22,0.23,0.24,0.25}
\bx{23}{cC}{0.40}{0.48}{0.51}{0.54}{0.615}{0.62,0.63,0.64,0.65,0.66,0.67,0.68,0.69,0.70,0.71,0.72,0.73,0.74,0.75,0.22,0.23,0.24,0.25,0.26,0.27,0.28,0.29,0.30,0.31,0.32,0.33,0.34,0.35,0.36,0.37,0.38,0.39,0.18}
\bx{24}{cD}{0.655}{0.705}{0.725}{0.75}{0.80}{0.81,0.82,0.83,0.84,0.85,0.86,0.87,0.88,0.89,0.90,0.91,0.92,0.93,0.94,0.95,0.96,0.97,0.98,1.0,0.495,0.505,0.515,0.525,0.535,0.545,0.555,0.565,0.575,0.585,0.595,0.605,0.615,0.625,0.635,0.645,0.445,0.335,0.305,0.24,0.135}
\bx{26}{cA}{0.075}{0.11}{0.16}{0.315}{0.615}{0.63,0.735,0.745,0.755,0.80,0.82,0.995}
\bx{27}{cB}{0.125}{0.265}{0.345}{0.435}{0.675}{0.705,0.755,0.86}
\bx{28}{cC}{0.03}{0.11}{0.16}{0.24}{0.43}{0.435,0.44,0.445,0.45,0.46,0.505,0.525}
\bx{29}{cD}{0.035}{0.085}{0.16}{0.225}{0.375}{0.455,0.46,0.565,0.685}
\bx{31}{cA}{0.88}{0.92}{0.935}{0.95}{0.97}{0.99,1.0,1.04,1.05,0.855,0.715}
\bx{32}{cB}{0.36}{0.44}{0.475}{0.51}{0.61}{0.325,0.32,0.31,0.30,0.12}
\bx{33}{cC}{0.37}{0.52}{0.575}{0.625}{0.745}{0.36,0.35,0.34,0.32,0.31,0.275,0.215}
\bx{34}{cD}{0.80}{0.84}{0.855}{0.87}{0.90}{0.91,0.915,0.945,0.74,0.75,0.76,0.77,0.78,0.79}
\bx{36}{cA}{0.545}{0.76}{0.845}{0.905}{1.05}{1.13,1.14,1.17,1.265,0.495,0.48,0.465,0.405,0.27}
\bx{37}{cB}{0.135}{0.29}{0.35}{0.43}{0.63}{0.65,0.665,0.675,0.705,0.75,0.93}
\bx{38}{cC}{0.34}{0.44}{0.48}{0.51}{0.61}{0.615,0.625,0.635,0.645,0.655,0.665,0.675,0.685,0.695,0.705,0.715,0.755,0.775,0.195,0.205,0.215,0.225,0.235,0.245,0.255,0.265,0.275,0.285,0.295,0.305,0.315,0.325,0.335,0.18}
\bx{39}{cD}{0.525}{0.675}{0.73}{0.78}{0.93}{0.94,0.95,0.97,0.99,1.0,1.02,1.035,0.39,0.40,0.41,0.42,0.43,0.44,0.45,0.46,0.47,0.48,0.49,0.50,0.51,0.52,0.37}
\end{axis}

% ---------------- Peroxisome
\begin{axis}[pan, at={(306.75pt,-649.95pt)}, ymin=-0.0215, ymax=1.1309, title={Distances from median of Peroxisome}]
\bx{1}{cA}{0.47}{0.615}{0.66}{0.72}{0.865}{0.89,0.91,0.915,0.92,1.005,0.455,0.415,0.395,0.325,0.275,0.13}
\bx{2}{cB}{0.335}{0.52}{0.595}{0.655}{0.84}{0.31,0.29,0.235,0.19,0.18,0.15,0.115,0.075}
\bx{3}{cC}{0.125}{0.315}{0.375}{0.45}{0.65}{0.66,0.67,0.68,0.12,0.115,0.11,0.105}
\bx{4}{cD}{0.40}{0.52}{0.585}{0.625}{0.72}{0.32}
\bx{6}{cA}{0.365}{0.475}{0.505}{0.555}{0.665}{0.67,0.68,0.69,0.70,0.71,0.72,0.73,0.74,0.75,0.76,0.77,0.78,0.975,0.245,0.255,0.265,0.275,0.285,0.295,0.305,0.315,0.325,0.335,0.345,0.355}
\bx{7}{cB}{0.345}{0.455}{0.49}{0.53}{0.64}{0.645,0.655,0.665,0.675,0.685,0.695,0.705,0.715,0.725,0.735,0.745,0.755,0.765,0.775,0.86,0.22,0.23,0.24,0.25,0.26,0.27,0.28,0.29,0.30,0.31,0.32,0.33,0.34,0.20,0.14,0.095,0.09}
\bx{8}{cC}{0.12}{0.255}{0.305}{0.35}{0.495}{0.50,0.51,0.52,0.53,0.54,0.55,0.56,0.575,0.60,0.62,0.09,0.10,0.11,0.115}
\bx{9}{cD}{0.325}{0.405}{0.435}{0.465}{0.545}{0.555,0.565,0.575,0.585,0.595,0.605,0.615,0.625,0.635,0.645,0.655,0.155,0.165,0.175,0.185,0.195,0.205,0.215,0.225,0.235,0.245,0.255,0.265,0.275,0.285,0.295,0.305,0.315}
\bx{11}{cA}{0.395}{0.585}{0.62}{0.765}{0.81}{}
\bx{12}{cB}{0.36}{0.495}{0.555}{0.59}{0.735}{0.775,0.86,0.30,0.29,0.23,0.11,0.07}
\bx{13}{cC}{0.19}{0.315}{0.375}{0.425}{0.585}{0.65,0.67}
\bx{14}{cD}{0.40}{0.51}{0.54}{0.59}{0.63}{0.38,0.33}
\bx{16}{cA}{0.55}{0.645}{0.69}{0.715}{0.81}{0.82,0.875,0.88,0.52,0.50,0.48}
\bx{17}{cB}{0.445}{0.585}{0.64}{0.68}{0.81}{0.875,0.41,0.40,0.39,0.36,0.325}
\bx{18}{cC}{0.145}{0.335}{0.425}{0.50}{0.75}{}
\bx{19}{cD}{0.465}{0.585}{0.635}{0.665}{0.765}{0.79,0.81,0.82,0.845,1.01,1.02,0.46,0.45,0.44,0.40,0.28,0.22}
\bx{21}{cA}{0.21}{0.33}{0.38}{0.415}{0.535}{0.54,0.55,0.56,0.57,0.58,0.59,0.60,0.61,0.62,0.63,0.64,0.65,0.66,0.67,0.68,0.69,0.70,0.735,0.91,1.075,0.16,0.17,0.18,0.19,0.20,0.075,0.065,0.045}
\bx{22}{cB}{0.20}{0.32}{0.36}{0.40}{0.515}{0.52,0.53,0.54,0.55,0.56,0.57,0.58,0.59,0.60,0.61,0.62,0.63,0.64,0.65,0.66,0.67,0.68,0.69,0.70,0.71,0.72,0.73,0.74,0.75,0.78,0.79,0.805,0.825,0.91,0.04,0.05,0.06,0.07,0.08,0.09,0.10,0.11,0.12,0.13,0.14,0.15,0.16,0.17,0.18,0.19}
\bx{23}{cC}{0.105}{0.23}{0.27}{0.32}{0.445}{0.45,0.46,0.47,0.48,0.49,0.50,0.51,0.52,0.53,0.54,0.55,0.56,0.57,0.58,0.59,0.60,0.63,0.03,0.04,0.05,0.06,0.07,0.08,0.09,0.10}
\bx{24}{cD}{0.195}{0.32}{0.36}{0.405}{0.53}{0.535,0.545,0.555,0.565,0.575,0.585,0.595,0.605,0.615,0.625,0.635,0.66,0.695,0.875,0.05,0.06,0.07,0.08,0.09,0.10,0.11,0.12,0.13,0.14,0.15,0.16,0.17,0.18,0.19}
\bx{26}{cA}{0.41}{0.755}{0.93}{1.005}{1.085}{0.38,0.33,0.31,0.255}
\bx{27}{cB}{0.105}{0.47}{0.585}{0.73}{1.035}{}
\bx{28}{cC}{0.175}{0.46}{0.575}{0.685}{0.99}{}
\bx{29}{cD}{0.435}{0.76}{0.85}{0.985}{1.06}{0.405,0.325}
\bx{31}{cA}{0.025}{0.065}{0.095}{0.135}{0.235}{0.24,0.27,0.33,0.335}
\bx{32}{cB}{0.02}{0.06}{0.085}{0.135}{0.23}{0.245,0.255,0.265,0.275,0.29,0.30,0.33,0.34,0.37,0.40,0.42,0.445,0.53,0.545,0.65}
\bx{33}{cC}{0.02}{0.085}{0.125}{0.165}{0.28}{0.285,0.295,0.305,0.315,0.325,0.335,0.345,0.355,0.365,0.375,0.385,0.395,0.405,0.415,0.43}
\bx{34}{cD}{0.02}{0.06}{0.08}{0.115}{0.19}{0.195,0.205,0.215,0.225,0.235,0.255,0.265,0.275,0.445,0.52}
\bx{36}{cA}{0.27}{0.485}{0.55}{0.635}{0.85}{0.87,0.89,0.91,1.03,0.165}
\bx{37}{cB}{0.30}{0.455}{0.505}{0.565}{0.72}{0.74,0.745,0.755,0.80,0.83,0.99,0.285,0.28,0.205,0.135,0.12,0.115,0.075}
\bx{38}{cC}{0.185}{0.285}{0.32}{0.355}{0.455}{0.46,0.47,0.48,0.49,0.50,0.51,0.52,0.53,0.54,0.55,0.56,0.57,0.58,0.59,0.60,0.61,0.655,0.175,0.17,0.165,0.16,0.155,0.145,0.07}
\bx{39}{cD}{0.31}{0.43}{0.46}{0.515}{0.64}{0.645,0.655,0.665,0.675,0.685,0.695,0.705,0.715,0.725,0.735,0.745,0.755,0.765,0.265}
\end{axis}

% ---------------- PM
\begin{axis}[pan, at={(585.25pt,-649.95pt)}, ymin=-0.014, ymax=1.0272, title={Distances from median of PM}]
\bx{1}{cA}{0.265}{0.42}{0.52}{0.605}{0.875}{0.98}
\bx{2}{cB}{0.15}{0.34}{0.415}{0.505}{0.74}{0.755}
\bx{3}{cC}{0.065}{0.20}{0.28}{0.365}{0.61}{0.635}
\bx{4}{cD}{0.16}{0.36}{0.455}{0.52}{0.665}{}
\bx{6}{cA}{0.285}{0.41}{0.455}{0.50}{0.635}{0.65,0.655,0.66,0.665,0.67,0.705,0.86,0.265,0.24,0.235,0.22,0.21}
\bx{7}{cB}{0.22}{0.34}{0.385}{0.425}{0.55}{0.555,0.59,0.615,0.635,0.665,0.685,0.70,0.13,0.14,0.15,0.16,0.17,0.18,0.19,0.20}
\bx{8}{cC}{0.04}{0.185}{0.235}{0.29}{0.445}{0.45,0.46,0.47,0.48,0.49,0.495,0.51,0.555}
\bx{9}{cD}{0.21}{0.31}{0.345}{0.38}{0.485}{0.49,0.50,0.505,0.535,0.555,0.105,0.115,0.125,0.135,0.145,0.155,0.165,0.175,0.185,0.195}
\bx{11}{cA}{0.175}{0.25}{0.43}{0.56}{0.625}{}
\bx{12}{cB}{0.115}{0.225}{0.29}{0.39}{0.57}{0.69}
\bx{13}{cC}{0.07}{0.145}{0.19}{0.26}{0.43}{0.44,0.45,0.525,0.54}
\bx{14}{cD}{0.095}{0.20}{0.305}{0.365}{0.43}{}
\bx{16}{cA}{0.255}{0.425}{0.52}{0.55}{0.705}{0.77}
\bx{17}{cB}{0.21}{0.39}{0.46}{0.515}{0.68}{0.20,0.19,0.175,0.165,0.13,0.115}
\bx{18}{cC}{0.06}{0.21}{0.315}{0.395}{0.67}{}
\bx{19}{cD}{0.29}{0.415}{0.47}{0.505}{0.635}{0.645,0.655,0.665,0.675,0.70,0.71,0.725,0.735,0.745,0.28,0.26,0.255,0.25,0.235,0.22,0.205,0.185,0.165}
\bx{21}{cA}{0.28}{0.42}{0.475}{0.515}{0.66}{0.68,0.685,0.69,0.83,0.97,0.275,0.265,0.255,0.245,0.235,0.18}
\bx{22}{cB}{0.195}{0.34}{0.395}{0.44}{0.59}{0.60,0.635,0.645,0.675,0.685,0.69,0.77,0.125,0.135,0.145,0.155,0.165,0.175,0.185,0.085}
\bx{23}{cC}{0.065}{0.225}{0.29}{0.35}{0.53}{0.535,0.545,0.555,0.565,0.575,0.585,0.595,0.605,0.615,0.625,0.635,0.645,0.035}
\bx{24}{cD}{0.215}{0.355}{0.405}{0.455}{0.605}{0.61,0.615,0.62,0.625,0.63,0.675,0.685,0.78,0.21,0.205,0.195,0.19}
\bx{26}{cA}{0.31}{0.665}{0.815}{0.91}{0.985}{}
\bx{27}{cB}{0.09}{0.34}{0.43}{0.585}{0.905}{}
\bx{28}{cC}{0.15}{0.355}{0.47}{0.585}{0.905}{}
\bx{29}{cD}{0.30}{0.62}{0.715}{0.86}{0.94}{0.10}
\bx{31}{cA}{0.335}{0.455}{0.535}{0.57}{0.715}{}
\bx{32}{cB}{0.26}{0.40}{0.47}{0.505}{0.605}{0.24,0.20,0.19,0.17}
\bx{33}{cC}{0.095}{0.225}{0.30}{0.375}{0.575}{}
\bx{34}{cD}{0.245}{0.375}{0.445}{0.49}{0.625}{0.20}
\bx{36}{cA}{0.05}{0.125}{0.19}{0.27}{0.475}{0.49,0.51,0.515,0.545,0.555,0.63,0.665}
\bx{37}{cB}{0.06}{0.13}{0.185}{0.26}{0.45}{0.455,0.46,0.465,0.47,0.48,0.50,0.51,0.52,0.53,0.545,0.555,0.56,0.59,0.60,0.61,0.66,0.95}
\bx{38}{cC}{0.02}{0.08}{0.11}{0.14}{0.23}{0.235,0.245,0.255,0.265,0.275,0.285,0.295,0.305,0.315,0.325,0.335,0.345,0.355,0.365,0.375,0.385,0.395,0.42,0.44,0.48}
\bx{39}{cD}{0.03}{0.085}{0.13}{0.20}{0.365}{0.37,0.38,0.39,0.40,0.41,0.42,0.43,0.445,0.465,0.475,0.49,0.50,0.51,0.53}
\end{axis}

% ---------------- legend
\draw[black!85, line width=0.5pt] (63.65pt,-91.65pt) rectangle (212.85pt,-202.15pt);
\fill[cA] (75.85pt,-109.52pt) rectangle ++(8.65pt,-8.65pt);
\fill[cB] (75.85pt,-131.52pt) rectangle ++(8.65pt,-8.65pt);
\fill[cC] (75.85pt,-153.52pt) rectangle ++(8.65pt,-8.65pt);
\fill[cD] (75.85pt,-175.32pt) rectangle ++(8.65pt,-8.65pt);
\begin{scope}[every node/.style={anchor=west, inner sep=0pt, font=\fontsize{18.5}{21}\selectfont}]
\node at (97pt,-113.85pt) {DIA};
\node at (97pt,-135.85pt) {MS1};
\node at (97pt,-157.85pt) {TMT10--MS2};
\node at (97pt,-179.65pt) {TMT10--MS3};
\end{scope}
\end{tikzpicture}
\end{document}
